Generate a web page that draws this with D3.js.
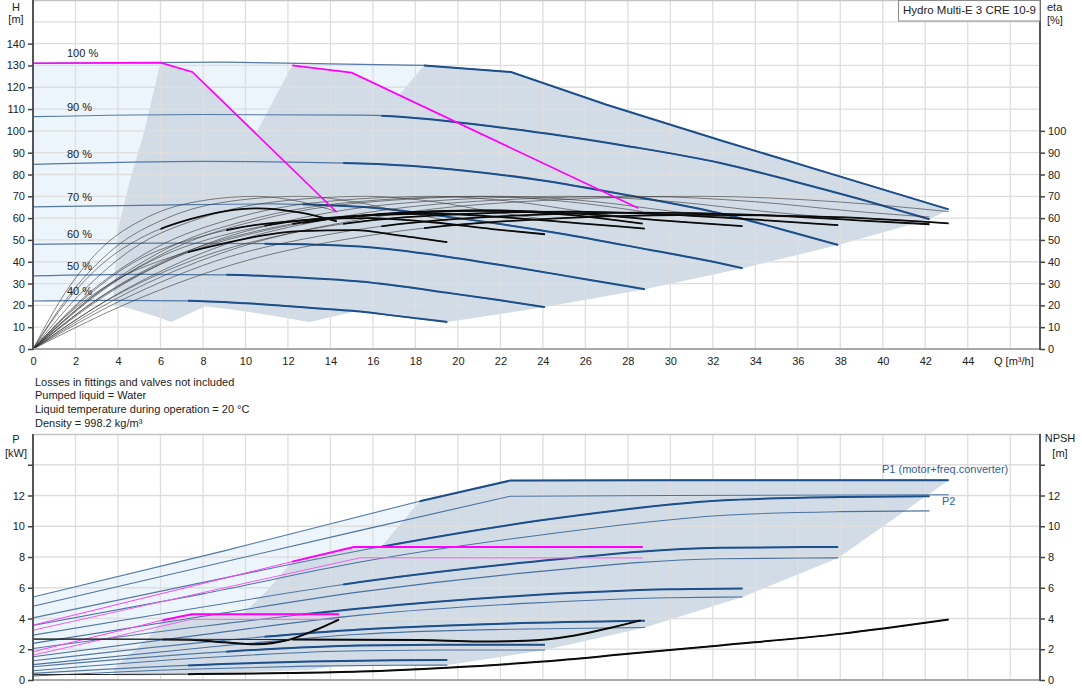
<!DOCTYPE html>
<html>
<head>
<meta charset="utf-8">
<script src="https://cdn.jsdelivr.net/npm/d3@7"></script>
<style>
body { margin: 0; background: #fff; }
svg text { font-family: "Liberation Sans", Arial, sans-serif; font-size: 11px; fill: #222; }
</style>
</head>
<body>
<svg id="chart" width="1082" height="700"></svg>
<script>
// Speed labels, top to bottom.
var speedLabels = ["100 %", "90 %", "80 %", "70 %", "60 %", "50 %", "40 %"];

// Q-H curves with three pumps running, Q [m³/h], H [m].
var headCurves = [
    [[0, 131], [9, 131.5], [18.4, 130], [22.5, 127], [27, 112], [32.35, 95.7], [37.5, 80.5], [43.1, 64]],
    [[0, 106.5], [8, 107.5], [15.4, 107.2], [22.46, 101], [28, 93], [32.35, 85.3], [35.6, 77.4], [39, 68.5], [42.2, 59.5]],
    [[0, 84.6], [8, 86], [15.4, 85.1], [23.9, 77.4], [28, 70.5], [32.35, 62.2], [35, 55.5], [37.9, 47.7]],
    [[0, 65.2], [6, 66], [11.2, 66.5], [15.4, 65.2], [20, 60], [24.8, 53], [29, 45.5], [32.35, 39.3], [33.4, 37]],
    [[0, 48], [6, 48.5], [10.9, 48.3], [15.4, 47], [19, 43], [22.46, 37.8], [26, 32], [28.8, 27.4]],
    [[0, 33.5], [5, 34.2], [9.1, 34], [12, 33], [15.4, 30.9], [19.7, 25.5], [22, 22.3], [24.1, 19.2]],
    [[0, 22], [4, 22.3], [7.3, 22.1], [10, 21], [14, 18.2], [15.4, 17.2], [17, 15.3], [19.5, 12.4]]
];
// Flow where each curve enters the three-pump range.
var headThickFrom = [18.4, 16.4, 14.6, 12.7, 10.9, 9.1, 7.3];

// Max curves for one and two pumps (magenta).
var maxHead1 = [[0, 131], [6, 131.3], [7.5, 127], [14.3, 62.7]];
var maxHead2 = [[12.2, 130], [15, 126.7], [28.5, 64.5]];

// Operating ranges, Q-H.
var rangeHead = [[0, 22], [0, 131], [9, 131.5], [18.4, 130], [16.4, 106.8], [14.6, 85.6], [12.7, 65.7],
    [10.9, 48.3], [9.1, 34], [7.3, 22.1], [4, 22.3]];
var envHead1 = [[3.86, 20.2], [3.8, 24], [3.9, 40], [3.95, 53], [4.57, 77.4], [5.24, 100], [6, 131], [7.5, 127],
    [14.3, 62.7], [14.1, 59.5], [12.63, 48], [11.13, 37], [9.6, 27.4], [8.03, 19.2], [6.5, 12.4], [5.67, 15.3], [4.67, 18.2]];
var envHead2 = [[4.87, 22.1], [6.07, 34], [7.27, 48.3], [8.47, 65.7], [9.73, 85.6], [10.93, 106.8], [12.2, 130],
    [15, 126.7], [28.5, 64.5], [28.2, 59.5], [25.3, 48], [22.3, 37], [19.2, 27.4], [16.06, 19.2], [13, 12.4],
    [11.3, 15.3], [9.3, 18.2], [6.7, 21]];
var envHead3 = [[7.3, 22.1], [9.1, 34], [10.9, 48.3], [12.7, 65.7], [14.6, 85.6], [16.4, 106.8], [18.4, 130],
    [22.5, 127], [27, 112], [32.35, 95.7], [37.5, 80.5], [43.1, 64], [42.2, 59.5], [37.9, 47.7], [33.4, 37],
    [28.8, 27.4], [24.1, 19.2], [19.5, 12.4], [17, 15.3], [15.4, 17.2], [14, 18.2], [10, 21]];

// Efficiency curves, eta [%] (pump only, thin).
var etaPump = [
    [[0, 0], [1.6, 27], [3.2, 46], [5.3, 60], [7.4, 67], [10.5, 70], [12.6, 67.5], [14.3, 63]],
    [[0, 0], [3.2, 27], [6.3, 46], [10.5, 60], [14.7, 67], [21, 70], [25.2, 67.5], [28.7, 63]],
    [[0, 0], [4.7, 27], [9.5, 46], [15.8, 60], [22.1, 67], [31.5, 70], [37.8, 67.5], [43.1, 63]],
    [[0, 0], [4.3, 27], [8.5, 46], [14.2, 60], [19.8, 67], [28.4, 70], [34, 67.5], [38.8, 63], [42.2, 60.5]],
    [[0, 0], [3.8, 27], [7.6, 46], [12.6, 60], [17.6, 67], [25.2, 70], [30.2, 67.5], [34.5, 63], [37.9, 60]],
    [[0, 0], [3.3, 27], [6.6, 46], [11, 60], [15.4, 67], [22, 70], [26.5, 67.5], [30.2, 63], [33.4, 60]],
    [[0, 0], [2.8, 27], [5.7, 46], [9.5, 60], [13.2, 67], [18.9, 70], [22.7, 67.5], [25.9, 63], [28.8, 59.5]],
    [[0, 0], [2.4, 27], [4.7, 46], [7.9, 60], [11, 67], [15.75, 70], [18.9, 67.5], [21.6, 63], [24.1, 59.5]],
    [[0, 0], [1.9, 27], [3.8, 46], [6.3, 60], [8.8, 67], [12.6, 70], [15.1, 67.5], [17.3, 63], [19.5, 59]]
];
// Total efficiency, thick inside the range.
var etaTotal = [
    [[0, 0], [1.6, 22], [3.2, 38.5], [5.3, 52], [7.4, 59.5], [10.5, 64.5], [12.6, 62.5], [14.3, 58.5]],
    [[0, 0], [3.2, 24], [6.3, 41], [10.5, 54], [14.7, 60.5], [21, 63.5], [25.2, 61.5], [28.7, 57.5]],
    [[0, 0], [4.7, 22], [9.5, 39], [15.8, 52], [22.1, 58.5], [31.5, 61.5], [37.8, 60.5], [43.1, 57.6]],
    [[0, 0], [4.3, 23], [8.5, 40], [14.2, 53], [19.8, 59.5], [28.4, 62.5], [34, 61.5], [38.8, 59], [42.2, 57.2]],
    [[0, 0], [3.8, 24], [7.6, 41], [12.6, 54], [17.6, 60.5], [25.2, 63], [30.2, 61.5], [34.5, 59], [37.9, 56.8]],
    [[0, 0], [3.3, 24.5], [6.6, 41.5], [11, 54.5], [15.4, 61], [22, 63.5], [26.5, 61.5], [30.2, 58.5], [33.4, 56.3]],
    [[0, 0], [2.8, 24], [5.7, 41], [9.5, 53.5], [13.2, 59.5], [18.9, 62], [22.7, 60], [25.9, 57.5], [28.8, 55.2]],
    [[0, 0], [2.4, 23], [4.7, 39.5], [7.9, 51.5], [11, 57.5], [15.75, 60], [18.9, 58], [21.6, 55], [24.1, 52.6]],
    [[0, 0], [1.9, 18], [3.8, 31], [6.3, 41.5], [8.8, 48], [12.6, 54], [15.1, 54.5], [17.3, 52], [19.5, 49]]
];
var etaThickFrom = [6, 12.2, 18.4, 16.4, 14.6, 12.7, 10.9, 9.1, 7.3];

// Power curves, three pumps, P [kW].
var p1Curves = [
    [[0, 5.4], [9, 8.4], [18.2, 11.63], [22.46, 12.97], [30, 13], [43.1, 13]],
    [[0, 4.04], [8, 6.35], [16.3, 8.65], [24, 10.4], [32.35, 11.67], [38, 11.9], [42.2, 11.95]],
    [[0, 2.92], [8, 4.75], [15.4, 6.37], [23.4, 7.67], [32.35, 8.6], [37.9, 8.65]],
    [[0, 2.05], [8, 3.5], [15.4, 4.65], [23.4, 5.51], [30, 5.9], [33.4, 5.95]],
    [[0, 1.25], [8, 2.45], [15.4, 3.29], [22.46, 3.68], [28.8, 3.85]],
    [[0, 0.86], [8, 1.75], [15.4, 2.25], [20, 2.3], [24.1, 2.3]],
    [[0, 0.43], [7.3, 0.95], [13, 1.2], [17, 1.28], [19.5, 1.3]]
];
var p1ThickFrom = [18.2, 16.4, 14.6, 12.7, 10.9, 9.1, 7.3];
var p2Curves = [
    [[0, 4.8], [15.4, 9.73], [22.46, 11.95], [30, 12], [43.1, 12.05]],
    [[0, 3.55], [8, 5.6], [15.4, 7.67], [24, 9.45], [32.35, 10.7], [38, 10.95], [42.2, 11]],
    [[0, 2.38], [8, 4.15], [15.4, 5.73], [23.4, 7], [32.35, 7.89], [37.9, 7.94]],
    [[0, 1.51], [8, 2.95], [15.4, 4.22], [23.4, 5], [30, 5.35], [33.4, 5.4]],
    [[0, 1], [8, 2.1], [15.4, 2.98], [22.46, 3.3], [28.8, 3.42]],
    [[0, 0.6], [8, 1.45], [15.4, 1.9], [20, 1.95], [24.1, 1.95]],
    [[0, 0.26], [7.3, 0.7], [13, 0.9], [17, 0.96], [19.5, 0.97]]
];

// Max power for one and two pumps (magenta).
var maxP1One = [[0, 1.84], [6.1, 3.89], [7.47, 4.28], [14.4, 4.28]];
var maxP2One = [[0, 1.62], [7.47, 3.95], [14.4, 3.95]];
var maxP1Two = [[0, 3.57], [12.2, 7.7], [15.1, 8.65], [28.7, 8.65]];
var maxP2Two = [[0, 3.24], [15.4, 7.95], [28.7, 7.94]];

// Operating ranges, Q-P.
var rangePower = [[0, 0.26], [0, 5.4], [18.2, 11.63], [16.4, 8.68], [14.6, 6.2], [12.7, 4.25], [10.9, 2.8],
    [9.1, 1.85], [7.3, 0.7]];
var envPower1 = [[3.86, 0.3], [3.8, 0.6], [3.95, 0.95], [4.3, 1.4], [4.85, 2], [5.4, 2.7], [6.1, 3.89],
    [7.47, 4.28], [14.4, 4.28], [14.4, 3.95], [12.63, 2.65], [11.13, 1.8], [9.6, 1.14], [8.03, 0.65], [6.5, 0.32]];
var envPower2 = [[4.88, 0.3], [4.88, 0.63], [6.1, 1.23], [7.32, 1.87], [8.54, 2.83], [9.76, 4.13], [11, 5.79],
    [12.2, 7.7], [15.1, 8.65], [28.7, 8.65], [28.7, 7.94], [25.3, 5.3], [22.3, 3.6], [19.2, 2.28], [16.06, 1.3], [13, 0.65]];
var envPower3 = [[7.3, 0.95], [9.1, 1.85], [10.9, 2.8], [12.7, 4.25], [14.6, 6.2], [16.4, 8.68], [18.2, 11.63],
    [22.46, 12.97], [43.1, 13], [37.9, 7.94], [33.4, 5.4], [28.8, 3.42], [24.1, 1.95], [19.5, 0.97], [13, 0.9], [7.3, 0.7]];

// NPSH curves [m].
var npshCurves = [
    [[0, 2.66], [4, 2.66], [7.4, 2.62], [9, 2.45], [10.5, 2.33], [12, 2.6], [13.3, 3.25], [14.4, 3.93]],
    [[0, 2.66], [10, 2.64], [18.2, 2.6], [21, 2.5], [23.2, 2.55], [25.5, 2.9], [27.2, 3.4], [28.6, 3.88]],
    [[0, 0.35], [7.3, 0.38], [12, 0.45], [15.4, 0.55], [19.5, 0.8], [24, 1.2], [28, 1.7], [32.35, 2.25], [38, 3], [43.1, 3.93]]
];
var npshThickFrom = [6.1, 12.2, 7.3];

var notes = ["Losses in fittings and valves not included", "Pumped liquid = Water",
    "Liquid temperature during operation = 20 °C", "Density = 998.2 kg/m³"];

var blueDark = "#1d4f8a";
var blueThin = "#5479a4";
var shadeGray = "#d1dce7";
var shadeLight = "#edf5fc";
var gridColor = "#dedede";

var svg = d3.select("#chart");
var defs = svg.append("defs");

var x = d3.scaleLinear().domain([0, 47.4]).range([33, 1040]);
var yH = d3.scaleLinear().domain([0, 160]).range([349, 0]);
var yP = d3.scaleLinear().domain([0, 16]).range([680, 434]);

var clipCount = 0;
function clipFrom(q) {
    var id = "clip" + (clipCount++);
    defs.append("clipPath").attr("id", id).append("rect")
        .attr("x", x(q)).attr("y", 0).attr("width", 1082 - x(q)).attr("height", 700);
    return "url(#" + id + ")";
}

function lineFor(yScale, curve) {
    return d3.line()
        .x(function(d) { return x(d[0]); })
        .y(function(d) { return yScale(d[1]); })
        .curve(curve || d3.curveMonotoneX);
}

// The full-speed curves have a sharp corner at the power limit.
function curveFor(i) { return i === 0 ? d3.curveLinear : d3.curveMonotoneX; }

function area(g, pts, yScale, color) {
    g.append("path")
        .attr("d", lineFor(yScale, d3.curveLinearClosed)(pts))
        .attr("fill", color)
        .attr("stroke", "none");
}

// Thin line over the whole curve, thick line from "from" onwards.
function split(g, pts, yScale, from, thin, thick, curve) {
    var d = lineFor(yScale, curve)(pts);
    g.append("path").attr("d", d).attr("fill", "none")
        .attr("stroke", thin.color).attr("stroke-width", thin.width)
        .attr("stroke-opacity", thin.opacity || 1);
    if (from != null && thick) {
        g.append("path").attr("d", d).attr("fill", "none")
            .attr("stroke", thick.color).attr("stroke-width", thick.width)
            .attr("clip-path", clipFrom(from));
    }
}

function grid(g, yScale, yTicks) {
    var y0 = yScale.range()[1], y1 = yScale.range()[0];
    g.selectAll(".vg").data(d3.range(2, 47, 2)).enter().append("line")
        .attr("x1", function(d) { return x(d); }).attr("x2", function(d) { return x(d); })
        .attr("y1", y0).attr("y2", y1)
        .attr("stroke", gridColor).attr("stroke-width", 1.3);
    g.selectAll(".hg").data(yTicks).enter().append("line")
        .attr("x1", x(0)).attr("x2", x(47.4))
        .attr("y1", function(d) { return yScale(d); }).attr("y2", function(d) { return yScale(d); })
        .attr("stroke", gridColor).attr("stroke-width", 1.3);
}

function frame(g, yScale) {
    var y0 = yScale.range()[1], y1 = yScale.range()[0];
    g.append("line").attr("x1", x(0)).attr("x2", x(47.4)).attr("y1", y0 + 0.5).attr("y2", y0 + 0.5)
        .attr("stroke", "#c4c4c4").attr("stroke-width", 1.5);
    g.append("line").attr("x1", x(0)).attr("x2", x(47.4)).attr("y1", y1).attr("y2", y1)
        .attr("stroke", "#a8a8a8").attr("stroke-width", 2);
    g.append("line").attr("x1", x(0)).attr("x2", x(0)).attr("y1", y0).attr("y2", y1 + 1)
        .attr("stroke", "#555").attr("stroke-width", 2);
    g.append("line").attr("x1", x(47.4)).attr("x2", x(47.4)).attr("y1", y0).attr("y2", y1 + 1)
        .attr("stroke", "#555").attr("stroke-width", 2);
}

function styleAxis(sel) {
    sel.select(".domain").remove();
    sel.selectAll(".tick line").attr("stroke", "#444").attr("stroke-width", 1.5);
    sel.selectAll(".tick text").attr("fill", "#222").style("font-size", "11px")
        .style("font-family", "'Liberation Sans', Arial, sans-serif");
}

// ---------- Q-H chart ----------
var headG = svg.append("g");
area(headG, rangeHead, yH, shadeLight);
area(headG, envHead1, yH, shadeGray);
area(headG, envHead2, yH, shadeGray);
area(headG, envHead3, yH, shadeGray);
grid(headG, yH, d3.range(10, 160, 10));

headCurves.forEach(function(c, i) {
    split(headG, c, yH, headThickFrom[i], { color: blueThin, width: 1.2 }, { color: blueDark, width: 2 }, curveFor(i));
    headG.append("text").attr("x", 67).attr("y", yH(c[0][1]) - 6).text(speedLabels[i]);
});

etaPump.forEach(function(c) {
    split(headG, c, yH, null, { color: "#333", width: 0.7, opacity: 0.85 });
});
etaTotal.forEach(function(c, i) {
    split(headG, c, yH, etaThickFrom[i], { color: "#333", width: 0.7, opacity: 0.85 }, { color: "#0b0b0b", width: 1.8 });
});

[maxHead1, maxHead2].forEach(function(c) {
    headG.append("path").attr("d", lineFor(yH, d3.curveLinear)(c))
        .attr("fill", "none").attr("stroke", "#ff00ff").attr("stroke-width", 1.7);
});

frame(headG, yH);
headG.append("g").attr("transform", "translate(" + x(0) + ",0)")
    .call(d3.axisLeft(yH).tickValues(d3.range(0, 150, 10)).tickSize(5).tickPadding(3))
    .call(styleAxis);
headG.append("g").attr("transform", "translate(" + x(47.4) + ",0)")
    .call(d3.axisRight(yH).tickValues(d3.range(0, 110, 10)).tickSize(5).tickPadding(3))
    .call(styleAxis);
headG.append("g").attr("transform", "translate(0," + yH(0) + ")")
    .call(d3.axisBottom(x).tickValues(d3.range(0, 45, 2)).tickSize(0).tickPadding(8))
    .call(styleAxis);

headG.append("text").attr("x", 16).attr("y", 10.5).attr("text-anchor", "middle").text("H");
headG.append("text").attr("x", 16).attr("y", 22.5).attr("text-anchor", "middle").text("[m]");
headG.append("text").attr("x", 1047).attr("y", 11).text("eta");
headG.append("text").attr("x", 1047).attr("y", 23.5).text("[%]");
headG.append("text").attr("x", 994).attr("y", 365).text("Q [m³/h]");

headG.append("rect").attr("x", 898.5).attr("y", 0.5).attr("width", 141.5).attr("height", 20.5)
    .attr("fill", "#fff").attr("stroke", "#8a8a8a").attr("stroke-width", 1);
headG.append("text").attr("x", 903).attr("y", 13.5).style("font-size", "11.5px").text("Hydro Multi-E 3 CRE 10-9");

// ---------- notes ----------
svg.append("g").selectAll("text").data(notes).enter().append("text")
    .attr("x", 35).attr("y", function(d, i) { return 385.5 + i * 13.8; })
    .text(function(d) { return d; });

// ---------- Q-P chart ----------
var powerG = svg.append("g");
area(powerG, rangePower, yP, shadeLight);
area(powerG, envPower1, yP, shadeGray);
area(powerG, envPower2, yP, shadeGray);
area(powerG, envPower3, yP, shadeGray);
grid(powerG, yP, d3.range(2, 16, 2));

p2Curves.forEach(function(c, i) {
    split(powerG, c, yP, null, { color: "#4a72a0", width: 1.1 }, null, curveFor(i));
});
p1Curves.forEach(function(c, i) {
    split(powerG, c, yP, p1ThickFrom[i], { color: blueThin, width: 1.1 }, { color: blueDark, width: 2 }, curveFor(i));
});

[maxP2One, maxP2Two].forEach(function(c) {
    powerG.append("path").attr("d", lineFor(yP, d3.curveLinear)(c))
        .attr("fill", "none").attr("stroke", "#f060f0").attr("stroke-width", 1);
});
split(powerG, maxP1One, yP, 6.1, { color: "#ff40ff", width: 1 }, { color: "#ff00ff", width: 2 }, d3.curveLinear);
split(powerG, maxP1Two, yP, 12.2, { color: "#ff40ff", width: 1 }, { color: "#ff00ff", width: 2 }, d3.curveLinear);

npshCurves.forEach(function(c, i) {
    split(powerG, c, yP, npshThickFrom[i], { color: "#222", width: 1 }, { color: "#0b0b0b", width: 2 });
});

frame(powerG, yP);
powerG.append("g").attr("transform", "translate(" + x(0) + ",0)")
    .call(d3.axisLeft(yP).tickValues(d3.range(0, 16, 2)).tickSize(5).tickPadding(3)
        .tickFormat(function(d) { return d < 14 ? d : ""; }))
    .call(styleAxis);
powerG.append("g").attr("transform", "translate(" + x(47.4) + ",0)")
    .call(d3.axisRight(yP).tickValues(d3.range(0, 16, 2)).tickSize(5).tickPadding(3)
        .tickFormat(function(d) { return d < 14 ? d : ""; }))
    .call(styleAxis);

powerG.append("text").attr("x", 16).attr("y", 443).attr("text-anchor", "middle").text("P");
powerG.append("text").attr("x", 16).attr("y", 457).attr("text-anchor", "middle").text("[kW]");
powerG.append("text").attr("x", 1060).attr("y", 442).attr("text-anchor", "middle").text("NPSH");
powerG.append("text").attr("x", 1060).attr("y", 457).attr("text-anchor", "middle").text("[m]");
powerG.append("text").attr("x", 882).attr("y", 473).style("fill", "#2f5f98").text("P1 (motor+freq.converter)");
powerG.append("text").attr("x", 942).attr("y", 505).style("fill", "#2f5f98").text("P2");
</script>
</body>
</html>
